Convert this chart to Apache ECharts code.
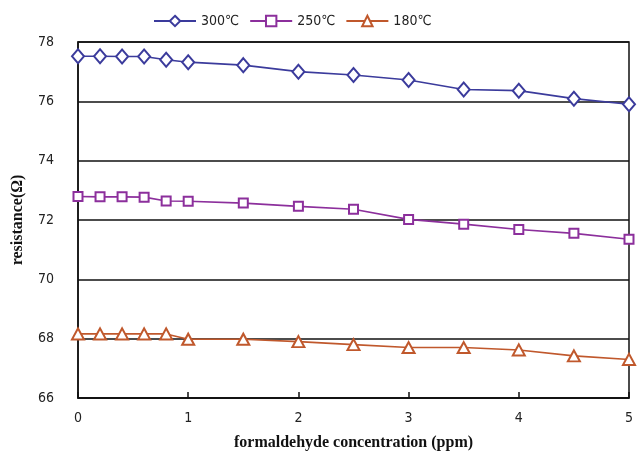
<!DOCTYPE html>
<html><head><meta charset="utf-8">
<script src="https://cdn.jsdelivr.net/npm/echarts@6/dist/echarts.min.js"></script>
<style>html,body{margin:0;padding:0;background:#fff}#c{width:644px;height:463px}</style>
</head><body><div id="c"></div>
<script>
const concentration = [0, 0.2, 0.4, 0.6, 0.8, 1, 1.5, 2, 2.5, 3, 3.5, 4, 4.5, 5];
const r300 = [77.52, 77.52, 77.51, 77.51, 77.4, 77.32, 77.22, 77.0, 76.89, 76.72, 76.4, 76.36, 76.09, 75.9];
const r250 = [72.79, 72.78, 72.78, 72.77, 72.64, 72.63, 72.57, 72.46, 72.36, 72.02, 71.86, 71.68, 71.55, 71.35];
const r180 = [68.16, 68.16, 68.16, 68.16, 68.16, 67.98, 67.98, 67.9, 67.8, 67.7, 67.7, 67.62, 67.42, 67.3];
const seriesNames = ['300℃', '250℃', '180℃'];
const yTicks = [66, 68, 70, 72, 74, 76, 78];

const pair = (ys) => concentration.map((x, i) => [x, ys[i]]);
const tickFont = '"DejaVu Sans Condensed", "Liberation Sans Narrow", "Liberation Sans", sans-serif';
const chart = echarts.init(document.getElementById('c'));
chart.setOption({
  animation: false,
  legend: {
    top: 9, left: 148, itemWidth: 42, itemHeight: 13, itemGap: 10,
    textStyle: { fontFamily: tickFont, fontSize: 14, color: '#222' },
    data: seriesNames
  },
  grid: { left: 78, right: 15, top: 42, bottom: 65, show: true, borderColor: '#111', borderWidth: 1.5 },
  xAxis: {
    type: 'value', min: 0, max: 5, interval: 1,
    name: 'formaldehyde concentration (ppm)', nameLocation: 'middle', nameGap: 37,
    nameTextStyle: { fontFamily: '"Liberation Serif", serif', fontWeight: 'bold', fontSize: 16, color: '#111' },
    axisLine: { lineStyle: { color: '#111', width: 1.5 } },
    axisTick: { inside: true, length: 6, lineStyle: { color: '#111', width: 1.5 } },
    axisLabel: { fontFamily: tickFont, fontSize: 14, color: '#222', margin: 13 },
    splitLine: { show: false }
  },
  yAxis: {
    type: 'value', min: yTicks[0], max: yTicks[yTicks.length - 1], interval: 2,
    name: 'resistance(Ω)', nameLocation: 'middle', nameGap: 52, nameRotate: 90,
    nameTextStyle: { fontFamily: '"Liberation Serif", serif', fontWeight: 'bold', fontSize: 16, color: '#111' },
    axisLine: { show: true, lineStyle: { color: '#111', width: 1.5 } },
    axisTick: { show: false },
    axisLabel: { fontFamily: tickFont, fontSize: 14, color: '#222', margin: 24 },
    splitLine: { lineStyle: { color: '#111', width: 1.5 } }
  },
  series: [
    { name: seriesNames[0], type: 'line', data: pair(r300), symbol: 'emptyDiamond', symbolSize: [12, 14],
      color: '#3b3b9c', lineStyle: { width: 1.6 }, itemStyle: { borderWidth: 1.5 } },
    { name: seriesNames[1], type: 'line', data: pair(r250), symbol: 'emptyRect', symbolSize: 9,
      color: '#8c2f9c', lineStyle: { width: 1.6 }, itemStyle: { borderWidth: 1.5 } },
    { name: seriesNames[2], type: 'line', data: pair(r180), symbol: 'emptyTriangle', symbolSize: [12, 11],
      color: '#c0582c', lineStyle: { width: 1.6 }, itemStyle: { borderWidth: 1.5 } }
  ]
});
</script></body></html>
